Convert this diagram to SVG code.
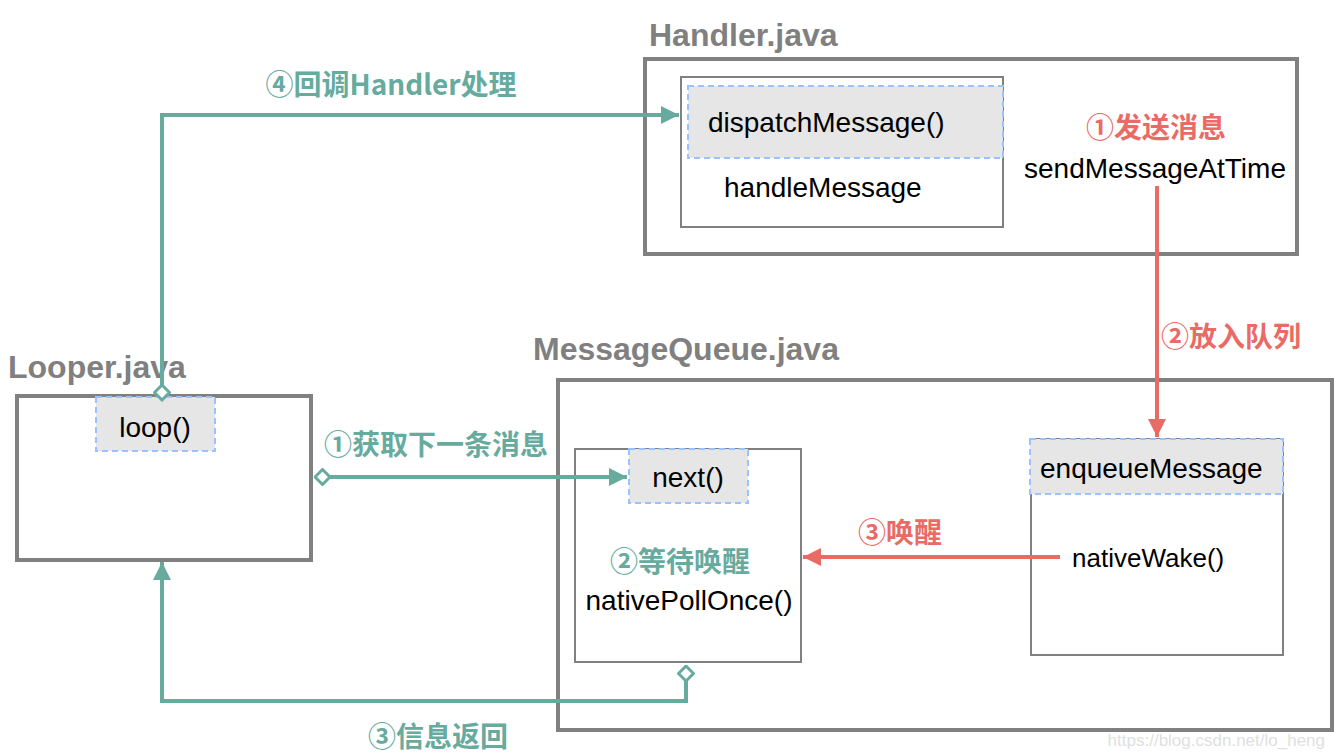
<svg xmlns="http://www.w3.org/2000/svg" width="1334" height="756" viewBox="0 0 1334 756">
<style>
.outer{fill:#fff;stroke:#808080;stroke-width:4}
.inner{fill:#fff;stroke:#808080;stroke-width:2}
.dash{fill:#e6e6e6;stroke:#99c2ff;stroke-width:2;stroke-dasharray:6 4}
.title{font-family:"Liberation Sans",Arial,sans-serif;font-weight:bold;font-size:32px;fill:#808080}
.t{font-family:"Liberation Sans",Arial,sans-serif;font-size:28px;fill:#000}
.g{font-family:"Noto Sans CJK SC","Liberation Sans",sans-serif;font-weight:bold;font-size:28px;fill:#67ab9f}
.r{font-family:"Noto Sans CJK SC","Liberation Sans",sans-serif;font-weight:bold;font-size:28px;fill:#ea6b66}
.gl{fill:none;stroke:#67ab9f;stroke-width:4}
.rl{fill:none;stroke:#ea6b66;stroke-width:4}
</style>
<defs>
<marker id="ag" viewBox="0 0 10 10" refX="10" refY="5" markerWidth="5.5" markerHeight="4.5" markerUnits="strokeWidth" orient="auto"><path d="M0,0 L10,5 L0,10 Z" fill="#67ab9f"/></marker>
<marker id="ar" viewBox="0 0 10 10" refX="10" refY="5" markerWidth="5.5" markerHeight="4.5" markerUnits="strokeWidth" orient="auto"><path d="M0,0 L10,5 L0,10 Z" fill="#ea6b66"/></marker>
<marker id="dg" viewBox="0 0 12 12" refX="1" refY="6" markerWidth="4.5" markerHeight="4.5" markerUnits="strokeWidth" orient="auto"><path d="M1,6 L6,1 L11,6 L6,11 Z" fill="#fff" stroke="#67ab9f" stroke-width="2"/></marker>
</defs>

<g id="handler">
<text class="title" x="649" y="46">Handler.java</text>
<rect class="outer" x="645" y="59" width="652" height="195"/>
<rect class="inner" x="681" y="77" width="322" height="150"/>
<rect class="dash" x="688" y="86" width="315" height="72"/>
<text class="t" x="708" y="132">dispatchMessage()</text>
<text class="t" x="724" y="197">handleMessage</text>
<text class="r" x="1156" y="138" text-anchor="middle">①发送消息</text>
<text class="t" x="1155" y="178" text-anchor="middle">sendMessageAtTime</text>
</g>

<g id="looper">
<text class="title" x="8" y="378">Looper.java</text>
<rect class="outer" x="17" y="396" width="294" height="164"/>
<rect class="dash" x="96" y="397" width="119" height="54"/>
<text class="t" x="155" y="437" text-anchor="middle">loop()</text>
</g>

<g id="messagequeue">
<text class="title" x="533" y="360">MessageQueue.java</text>
<rect class="outer" x="558" y="380" width="774" height="350"/>
<rect class="inner" x="575" y="449" width="226" height="213"/>
<rect class="dash" x="629" y="449" width="119" height="54"/>
<text class="t" x="688" y="487" text-anchor="middle">next()</text>
<text class="g" x="680" y="572" text-anchor="middle">②等待唤醒</text>
<text class="t" x="689" y="610" text-anchor="middle">nativePollOnce()</text>
<rect class="inner" x="1031" y="439" width="252" height="216"/>
<rect class="dash" x="1030" y="439" width="253" height="55"/>
<text class="t" x="1040" y="478">enqueueMessage</text>
<text class="t" x="1072" y="567" style="font-size:26px">nativeWake()</text>
</g>

<g id="connectors">
<polyline class="gl" points="162,400 162,115 679,115" marker-start="url(#dg)" marker-end="url(#ag)"/>
<text class="g" x="391" y="95" text-anchor="middle">④回调Handler处理</text>
<polyline class="gl" points="315,477 627,477" marker-start="url(#dg)" marker-end="url(#ag)"/>
<text class="g" x="436" y="455" text-anchor="middle">①获取下一条消息</text>
<polyline class="gl" points="686,666 686,701 162,701 162,562" marker-start="url(#dg)" marker-end="url(#ag)"/>
<text class="g" x="438" y="747" text-anchor="middle">③信息返回</text>
<polyline class="rl" points="1157,186 1157,437" marker-end="url(#ar)"/>
<text class="r" x="1231" y="347" text-anchor="middle">②放入队列</text>
<polyline class="rl" points="1060,557 803,557" marker-end="url(#ar)"/>
<text class="r" x="900" y="543" text-anchor="middle">③唤醒</text>
</g>

<text x="1325" y="746" text-anchor="end" style="font-family:'Liberation Sans',Arial,sans-serif;font-size:17px;fill:#e0e0e0">https://blog.csdn.net/lo_heng</text>
</svg>
